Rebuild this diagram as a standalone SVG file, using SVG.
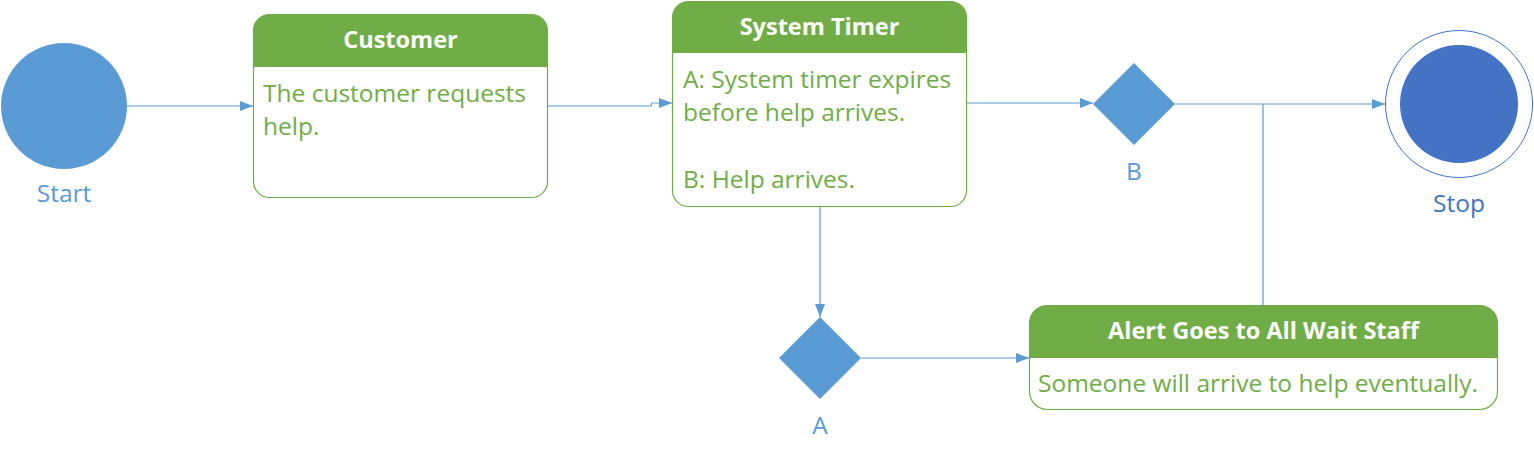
<svg xmlns="http://www.w3.org/2000/svg" width="1534" height="456" viewBox="0 0 1534 456">
<style>
.box{fill:#fff;stroke:#70AD47;stroke-width:1.2}
.hdr{fill:#70AD47}
.title{font-family:"Open Sans","Noto Sans",sans-serif;font-weight:bold;font-size:23.5px;fill:#fff;text-anchor:middle}
.body{font-family:"Open Sans","Noto Sans",sans-serif;font-size:24.5px;fill:#70AD47}
.lbl{font-family:"Open Sans","Noto Sans",sans-serif;font-size:24.5px;fill:#5B9BD5;text-anchor:middle}
.con{fill:none;stroke:#5B9BD5;stroke-width:1.2}
</style>
<defs>
<marker id="arr" viewBox="0 0 13 10" refX="13" refY="5" markerWidth="13" markerHeight="10" markerUnits="userSpaceOnUse" orient="auto">
<path d="M0,0 L13,5 L0,10 Z" fill="#5B9BD5"/>
</marker>
</defs>
<g id="connectors">
<path class="con" d="M127,106 H253" marker-end="url(#arr)"/>
<path class="con" d="M547,106 H651 L652,103 H672" marker-end="url(#arr)"/>
<path class="con" d="M966,103 H1093" marker-end="url(#arr)"/>
<path class="con" d="M1175,104 H1385" marker-end="url(#arr)"/>
<path class="con" d="M1263,305 V104"/>
<path class="con" d="M820,206 V317" marker-end="url(#arr)"/>
<path class="con" d="M861,358 H1029" marker-end="url(#arr)"/>
</g>
<g id="start">
<circle cx="64" cy="106" r="63" fill="#5B9BD5"/>
<text class="lbl" x="64" y="202">Start</text>
</g>
<g id="customer">
<rect class="box" x="253.5" y="14.5" width="294" height="183" rx="16"/>
<path class="hdr" d="M253.5,67 V30.5 A16,16 0 0 1 269.5,14.5 H531.5 A16,16 0 0 1 547.5,30.5 V67 Z"/>
<text class="title" x="400.5" y="48">Customer</text>
<text class="body" x="263" y="101.5">The customer requests</text>
<text class="body" x="263" y="135">help.</text>
</g>
<g id="system-timer">
<rect class="box" x="672.5" y="1.5" width="294" height="205" rx="16"/>
<path class="hdr" d="M672.5,53 V17.5 A16,16 0 0 1 688.5,1.5 H950.5 A16,16 0 0 1 966.5,17.5 V53 Z"/>
<text class="title" x="819.5" y="35">System Timer</text>
<text class="body" x="683" y="88">A: System timer expires</text>
<text class="body" x="683" y="121">before help arrives.</text>
<text class="body" x="683" y="188">B: Help arrives.</text>
</g>
<g id="gateway-b">
<polygon points="1134,63 1175,104 1134,145 1093,104" fill="#5B9BD5"/>
<text class="lbl" x="1134" y="180">B</text>
</g>
<g id="stop">
<circle cx="1459" cy="104" r="73.5" fill="#fff" stroke="#4472C4" stroke-width="1"/>
<circle cx="1459" cy="104" r="59" fill="#4472C4"/>
<text class="lbl" x="1459" y="212" style="fill:#4472C4">Stop</text>
</g>
<g id="gateway-a">
<polygon points="820,317 861,358 820,399 779,358" fill="#5B9BD5"/>
<text class="lbl" x="820" y="434">A</text>
</g>
<g id="alert">
<rect class="box" x="1029.5" y="305.5" width="468" height="104" rx="18"/>
<path class="hdr" d="M1029.5,358 V323.5 A18,18 0 0 1 1047.5,305.5 H1479.5 A18,18 0 0 1 1497.5,323.5 V358 Z"/>
<text class="title" x="1263.5" y="339">Alert Goes to All Wait Staff</text>
<text class="body" x="1038" y="392">Someone will arrive to help eventually.</text>
</g>
</svg>
